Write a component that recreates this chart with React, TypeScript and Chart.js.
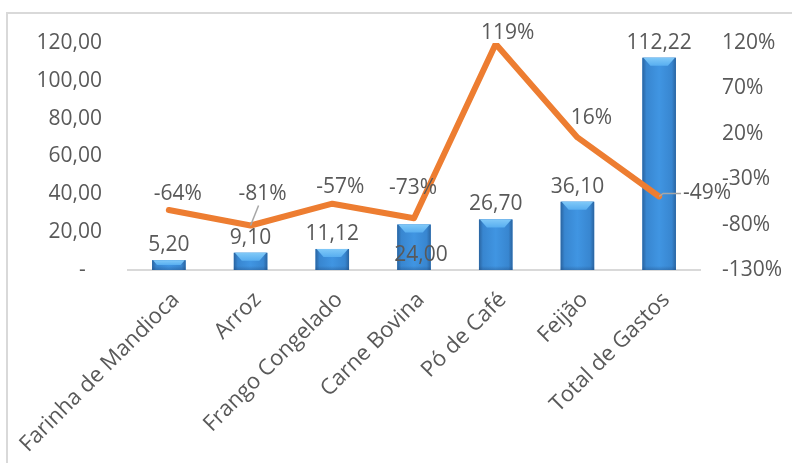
import React, { useEffect, useRef } from "react";
import { Chart, registerables } from "chart.js";

Chart.register(...registerables);

// ---- data ----
const categories = [
  "Farinha de Mandioca",
  "Arroz",
  "Frango Congelado",
  "Carne Bovina",
  "Pó de Café",
  "Feijão",
  "Total de Gastos",
];
const gastos = [5.2, 9.1, 11.12, 24.0, 26.7, 36.1, 112.22];
const variacao = [-64, -81, -57, -73, 119, 16, -49];
const leftAxis = { min: 0, max: 120, step: 20 };
const rightAxis = { min: -130, max: 120, step: 50 };

// ---- style ----
const FONT = '"Open Sans", "Liberation Sans", sans-serif';
const FS = 21;
const XFS = 22;
const TEXT = "#595959";
const ORANGE = "#ED7D31";
const AXIS_GRAY = "#D9D9D9";
// label placement tweaks (style, keyed by category)
const barLabelBelow: Record<string, [number, number]> = { "Carne Bovina": [7, 30] };
const lineLabelShift: Record<string, [number, number]> = {
  "Farinha de Mandioca": [9, -16],
  Arroz: [12, -31],
  "Frango Congelado": [8, -17],
  "Carne Bovina": [-1, -30],
  "Pó de Café": [12, -11],
  Feijão: [14, -19],
  "Total de Gastos": [48, -3],
};
const leaderLines = ["Arroz", "Total de Gastos"];

const fmtNum = (v: number) => v.toFixed(2).replace(".", ",");

const bevelPlugin = {
  id: "bevelBars",
  afterDatasetDraw(chart: any, args: any) {
    if (args.index !== 0) return;
    const ctx = chart.ctx as CanvasRenderingContext2D;
    const meta = chart.getDatasetMeta(0);
    ctx.save();
    meta.data.forEach((el: any) => {
      const { x, y, base, width } = el.getProps(["x", "y", "base", "width"], true);
      const l = x - width / 2;
      const r = x + width / 2;
      const t = y;
      const b = base;
      const h = b - t;
      const g = ctx.createLinearGradient(l, 0, r, 0);
      g.addColorStop(0, "#2A64A0");
      g.addColorStop(0.12, "#3886D0");
      g.addColorStop(0.5, "#4095E2");
      g.addColorStop(0.88, "#3886D0");
      g.addColorStop(1, "#2A64A0");
      ctx.fillStyle = g;
      ctx.fillRect(l, t, width, h);
      const bv = Math.min(8, h / 2);
      const tg = ctx.createLinearGradient(0, t, 0, t + bv);
      tg.addColorStop(0, "#80C9F8");
      tg.addColorStop(1, "#58AEF0");
      ctx.fillStyle = tg;
      ctx.beginPath();
      ctx.moveTo(l + 1, t);
      ctx.lineTo(r - 1, t);
      ctx.lineTo(r - bv, t + bv);
      ctx.lineTo(l + bv, t + bv);
      ctx.closePath();
      ctx.fill();
      const bg = ctx.createLinearGradient(0, b - 4, 0, b);
      bg.addColorStop(0, "rgba(30,70,120,0)");
      bg.addColorStop(1, "rgba(30,70,120,0.35)");
      ctx.fillStyle = bg;
      ctx.fillRect(l, b - 4, width, 4);
    });
    ctx.restore();
  },
};

const labelPlugin = {
  id: "dataLabels",
  afterDatasetsDraw(chart: any) {
    const ctx = chart.ctx as CanvasRenderingContext2D;
    ctx.save();
    ctx.font = `${FS}px ${FONT}`;
    ctx.fillStyle = TEXT;
    ctx.textAlign = "center";
    ctx.textBaseline = "middle";
    const barMeta = chart.getDatasetMeta(0);
    barMeta.data.forEach((el: any, i: number) => {
      const { x, y } = el.getProps(["x", "y"], true);
      const cat = categories[i];
      const sh = barLabelBelow[cat];
      const tx = sh ? x + sh[0] : x;
      const ty = sh ? y + sh[1] : y - 15;
      ctx.fillText(fmtNum(gastos[i]), tx, ty);
    });
    const lineMeta = chart.getDatasetMeta(1);
    lineMeta.data.forEach((el: any, i: number) => {
      const { x, y } = el.getProps(["x", "y"], true);
      const cat = categories[i];
      const sh = lineLabelShift[cat] || [0, -17];
      const tx = x + sh[0];
      const ty = y + sh[1];
      const txt = `${variacao[i]}%`;
      if (leaderLines.includes(cat)) {
        ctx.save();
        ctx.strokeStyle = "#A6A6A6";
        ctx.lineWidth = 1.5;
        ctx.beginPath();
        if (Math.abs(sh[0]) > Math.abs(sh[1])) {
          const w = ctx.measureText(txt).width;
          const lx = tx - w / 2 - 2;
          ctx.moveTo(x, y);
          ctx.lineTo(x + 4, ty);
          ctx.lineTo(lx, ty);
        } else {
          ctx.moveTo(x, y);
          ctx.lineTo(tx - 4, ty + 11);
        }
        ctx.stroke();
        ctx.restore();
      }
      ctx.fillText(txt, tx, ty);
    });
    ctx.restore();
  },
};

export default function App() {
  const ref = useRef<HTMLCanvasElement | null>(null);
  useEffect(() => {
    if (!ref.current) return;
    const chart = new Chart(ref.current, {
      type: "bar",
      data: {
        labels: categories,
        datasets: [
          {
            type: "bar",
            label: "Gastos",
            data: gastos,
            yAxisID: "y",
            backgroundColor: "#3D90DC",
            barPercentage: 0.41,
            categoryPercentage: 1,
            order: 1,
          },
          {
            type: "line",
            label: "Variação",
            data: variacao,
            yAxisID: "y1",
            borderColor: ORANGE,
            borderWidth: 6,
            borderCapStyle: "round",
            borderJoinStyle: "round",
            pointRadius: 0,
            tension: 0,
            order: 0,
          } as any,
        ],
      },
      options: {
        responsive: false,
        animation: false,
        devicePixelRatio: 1,
        layout: { padding: { top: 43, left: 0, right: 0, bottom: 0 } },
        plugins: { legend: { display: false }, tooltip: { enabled: false } },
        scales: {
          x: {
            grid: { display: false, drawTicks: false },
            border: { display: true, color: AXIS_GRAY, width: 2 },
            ticks: {
              autoSkip: false,
              minRotation: 45,
              maxRotation: 45,
              padding: 17,
              labelOffset: 7,
              color: TEXT,
              font: { family: FONT, size: XFS },
            },
            afterFit: (s: any) => {
              s.height = 193;
              s.paddingLeft = 0;
              s.paddingRight = 0;
            },
          },
          y: {
            position: "left",
            min: leftAxis.min,
            max: leftAxis.max,
            grid: { display: false, drawTicks: false },
            border: { display: false },
            ticks: {
              stepSize: leftAxis.step,
              padding: 26,
              color: TEXT,
              font: { family: FONT, size: FS },
              callback: (v: any) => (Number(v) === 0 ? "-   " : fmtNum(Number(v))),
            },
            afterFit: (s: any) => {
              s.width = 128;
            },
          },
          y1: {
            position: "right",
            min: rightAxis.min,
            max: rightAxis.max,
            grid: { display: false, drawTicks: false },
            border: { display: false },
            ticks: {
              stepSize: rightAxis.step,
              padding: 22,
              color: TEXT,
              font: { family: FONT, size: FS },
              callback: (v: any) => `${v}%`,
            },
            afterFit: (s: any) => {
              s.width = 92;
            },
          },
        },
      },
      plugins: [bevelPlugin, labelPlugin],
    });
    return () => chart.destroy();
  }, []);

  return (
    <div style={{ position: "fixed", left: 0, top: 0, width: 792, height: 463, background: "#fff", overflow: "hidden" }}>
      <div
        style={{
          position: "absolute",
          left: 6,
          top: 12,
          width: 820,
          height: 480,
          border: "2px solid #D9D9D9",
        }}
      />
      <canvas ref={ref} width={792} height={463} style={{ position: "absolute", left: 0, top: 0 }} />
    </div>
  );
}
